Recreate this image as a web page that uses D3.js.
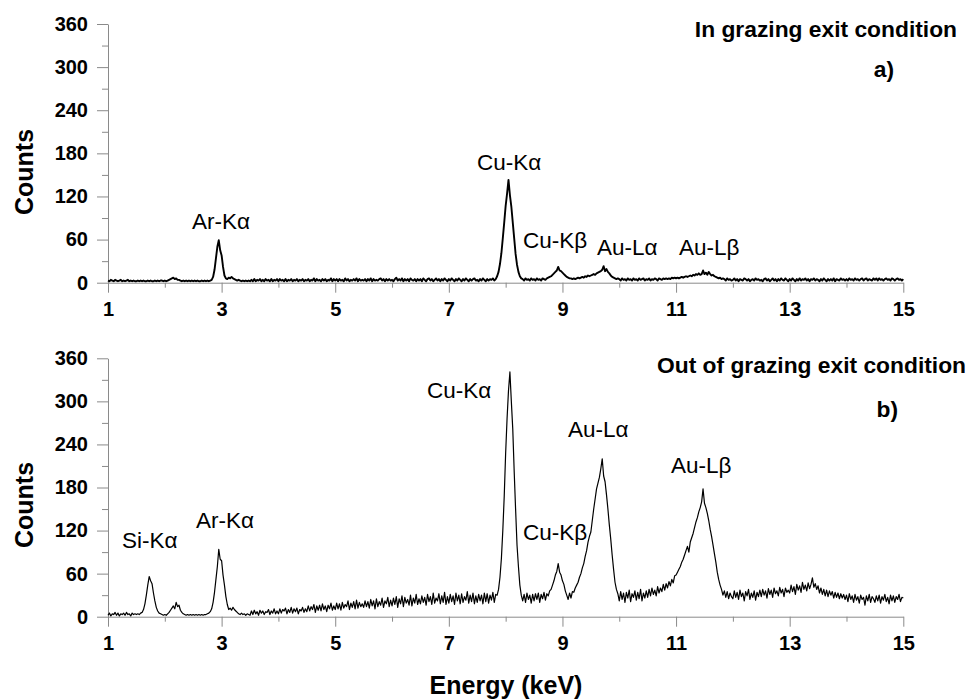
<!DOCTYPE html>
<html><head><meta charset="utf-8">
<script src="https://cdn.jsdelivr.net/npm/d3@7"></script>
<style>body{margin:0;background:#fff}</style></head>
<body><svg id="c" width="970" height="699"></svg>
<script>
// Channel grid of the spectra (keV)
const energyStart = 1, energyStep = 0.025;

// Panel a) In grazing exit condition — counts per channel
const countsA = [
3,2,4,3,2,4,3,2,3,4,2,3,2,3,4,2,3,2,3,2,
2,3,2,3,2,3,2,2,3,2,3,2,2,3,2,3,2,3,3,2,
3,2,3,4,5,6,7,5,6,4,4,3,2,3,2,3,2,3,2,3,
2,3,2,3,2,2,3,2,3,2,3,2,3,4,8,18,34,50,59,45,
38,22,10,6,5,7,6,8,6,5,4,3,4,3,2,3,2,3,2,3,
2,4,2,5,2,4,3,5,2,4,2,5,3,4,2,5,2,4,3,5,
2,5,3,4,2,5,2,4,3,5,2,4,3,5,2,4,3,5,2,4,
3,5,2,4,3,6,2,5,3,4,2,5,3,5,2,4,3,6,2,5,
3,5,2,5,3,4,2,6,3,5,2,4,3,5,3,6,2,5,3,4,
3,5,2,5,3,6,2,5,3,4,3,5,6,3,5,2,5,3,5,3,
4,2,5,7,3,5,3,6,2,5,3,5,2,6,4,3,5,2,5,3,
5,2,6,4,2,5,6,3,5,2,4,6,3,5,2,5,3,6,4,2,
5,3,6,4,2,5,3,6,4,2,5,3,6,4,2,5,3,5,6,3,
4,2,5,3,6,4,2,5,3,5,4,6,3,5,9,15,26,41,62,84,
107,124,143,122,106,84,62,40,25,15,9,6,5,3,6,4,5,3,6,4,
5,3,6,4,5,3,6,5,4,6,7,8,9,11,13,15,17,22,17,16,
14,12,10,8,7,6,6,5,6,5,6,7,6,7,8,7,9,8,10,9,
10,11,12,11,13,14,15,16,18,23,16,19,15,13,10,8,7,6,5,6,
5,3,6,4,5,3,6,4,5,3,6,4,5,3,6,4,5,6,3,5,
4,6,3,5,4,6,5,3,6,5,4,6,5,6,5,6,5,7,6,7,
6,7,6,7,8,7,8,9,8,9,10,9,11,10,12,11,13,11,12,17,
12,14,11,15,12,10,11,9,8,7,6,7,5,6,5,3,6,4,5,3,
4,6,3,5,2,5,4,3,6,5,3,5,2,4,5,3,6,4,5,3,
4,2,5,6,3,5,2,4,6,3,5,2,5,3,6,4,3,6,4,2,
5,3,6,4,2,5,3,6,3,5,4,6,3,5,2,5,4,6,3,5,
4,2,5,3,6,4,2,5,3,5,3,6,2,5,4,3,6,4,5,3,
5,3,6,4,5,3,6,4,5,3,5,6,3,5,6,3,5,4,3,6,
4,6,3,6,4,5,3,5,6,4,5,3,6,5,3,5,6,4,5,3,
5];

// Panel b) Out of grazing exit condition — counts per channel
const countsB = [
2,5,1,4,3,6,2,5,1,4,3,5,2,6,3,4,1,5,3,4,
3,4,3,5,6,10,18,30,44,56,50,46,33,22,13,8,5,4,3,2,
3,2,4,6,9,12,15,11,20,14,16,9,6,4,3,2,3,2,3,2,
3,2,3,2,3,2,3,2,3,3,4,5,7,11,20,34,52,70,94,80,
78,58,44,28,17,10,12,9,13,10,8,6,4,3,5,3,4,2,4,3,
2,8,3,9,4,7,2,9,5,8,3,7,6,10,3,8,5,11,4,8,
4,11,5,10,8,12,4,10,6,13,5,11,7,12,4,10,8,13,6,11,
7,15,8,14,10,17,6,15,9,16,8,18,10,15,7,16,11,19,9,15,
10,19,11,18,9,20,12,17,14,22,10,19,13,21,11,23,12,20,14,18,
13,22,14,21,12,24,15,22,11,25,14,21,16,26,13,22,18,27,14,23,
15,26,17,28,13,25,18,29,14,27,19,24,16,30,15,26,19,31,17,25,
18,29,20,27,16,31,21,28,17,33,19,26,22,32,18,29,20,34,17,28,
19,31,21,29,17,33,22,30,18,32,20,28,23,35,19,30,21,33,18,29,
20,31,22,30,18,33,21,32,19,30,23,34,20,31,30,38,55,81,120,168,
228,276,315,341,300,262,203,150,100,70,44,30,22,31,20,33,24,30,19,31,
22,32,24,33,20,31,25,34,23,32,29,36,38,44,50,58,63,74,62,58,
50,45,36,30,24,33,26,35,34,40,44,48,55,60,68,74,84,92,104,112,
118,134,150,164,178,186,194,206,220,196,188,170,150,128,108,86,66,48,38,32,
22,35,24,33,20,34,26,37,21,32,27,36,23,34,25,38,22,33,26,36,
27,38,29,40,31,37,29,42,33,40,35,45,37,46,40,49,43,52,47,57,
58,62,66,70,76,80,86,92,98,90,104,110,116,124,132,138,146,152,160,178,
158,152,144,134,122,112,100,88,76,62,52,44,38,30,36,27,35,25,33,28,
25,36,27,34,24,37,28,33,22,35,29,38,24,33,27,36,23,34,28,37,
28,38,30,36,26,39,31,37,27,40,32,36,29,41,33,38,28,40,34,37,
33,44,35,42,31,45,37,43,34,48,38,44,36,47,39,45,54,41,46,38,
43,33,40,31,38,29,37,28,36,30,35,26,34,27,33,25,32,26,31,24,
30,21,32,24,29,20,31,23,28,19,30,24,27,16,29,22,31,20,28,25,
20,29,22,30,19,28,23,31,21,27,18,30,22,29,20,28,24,31,21,27,
26];

const xTicks = [1,3,5,7,9,11,13,15];
const xMinorTicks = [2,4,6,8,10,12,14];
const yTicks = [0,60,120,180,240,300,360];
const yMinorTicks = [30,90,150,210,270,330];

const titles = ["In grazing exit condition", "Out of grazing exit condition"];
const panelTags = ["a)", "b)"];
const peakNamesA = ["Ar-Kα","Cu-Kα","Cu-Kβ","Au-Lα","Au-Lβ"];
const peakNamesB = ["Si-Kα","Ar-Kα","Cu-Kα","Cu-Kβ","Au-Lα","Au-Lβ"];
const xTitle = "Energy (keV)";
const yTitle = "Counts";

// ---------- drawing ----------
const svg = d3.select("#c");
const FONT = "Arial, 'Liberation Sans', Helvetica, sans-serif";
const AXIS_COLOR = "#8a8a8a";

const x = d3.scaleLinear().domain([1, 15]).range([108, 903.3]);

function drawPanel(counts, yBottom, yTop, strokeW, labelPos, names, title, titlePos, tag, tagPos, yTitleY) {
  const y = d3.scaleLinear().domain([0, 360]).range([yBottom, yTop]);
  const g = svg.append("g");

  g.append("g").attr("transform", `translate(0,${yBottom})`)
    .call(d3.axisBottom(x).tickValues(xMinorTicks).tickSize(5).tickFormat(""))
    .call(s => s.select(".domain").remove());
  g.append("g").attr("transform", `translate(${x(1)},0)`)
    .call(d3.axisLeft(y).tickValues(yMinorTicks).tickSize(6).tickFormat(""))
    .call(s => s.select(".domain").remove());

  g.append("g").attr("transform", `translate(0,${yBottom})`)
    .call(d3.axisBottom(x).tickValues(xTicks).tickSize(10).tickPadding(9).tickSizeOuter(0));
  g.append("g").attr("transform", `translate(${x(1)},0)`)
    .call(d3.axisLeft(y).tickValues(yTicks).tickSize(11).tickPadding(9).tickSizeOuter(0));

  g.selectAll(".domain, .tick line").attr("stroke", AXIS_COLOR).attr("stroke-width", 1);
  g.selectAll(".tick text").style("font", `bold 20px ${FONT}`).attr("fill", "#000");

  const line = d3.line()
    .x((d, i) => x(energyStart + i * energyStep))
    .y(d => y(d));
  g.append("path").datum(counts)
    .attr("fill", "none").attr("stroke", "#000")
    .attr("stroke-width", strokeW).attr("stroke-linejoin", "round")
    .attr("d", line);

  names.forEach((n, i) => {
    g.append("text").attr("x", labelPos[i][0]).attr("y", labelPos[i][1])
      .style("font", `22.5px ${FONT}`).attr("fill", "#000").text(n);
  });

  g.append("text").attr("x", titlePos[0]).attr("y", titlePos[1]).attr("text-anchor", "end")
    .style("font", `bold 22.8px ${FONT}`).text(title);
  g.append("text").attr("x", tagPos[0]).attr("y", tagPos[1]).attr("text-anchor", "end")
    .style("font", `bold 22.8px ${FONT}`).text(tag);

  g.append("text").attr("transform", `translate(33,${yTitleY}) rotate(-90)`)
    .attr("text-anchor", "middle")
    .style("font", `bold 25px ${FONT}`).text(yTitle);
}

drawPanel(countsA, 282.7, 24, 1.9,
  [[192,229],[477,170],[523,248],[597,255],[679,255]], peakNamesA,
  titles[0], [957, 37], panelTags[0], [894, 77], 172);

drawPanel(countsB, 616.7, 358.3, 1.2,
  [[122,548],[196,528],[427,398],[523,540],[568,437],[671,473]], peakNamesB,
  titles[1], [966, 373], panelTags[1], [898, 417], 505);

svg.append("text").attr("x", 506).attr("y", 694).attr("text-anchor", "middle")
  .style("font", `bold 25px ${FONT}`).text(xTitle);
</script>
</body></html>
